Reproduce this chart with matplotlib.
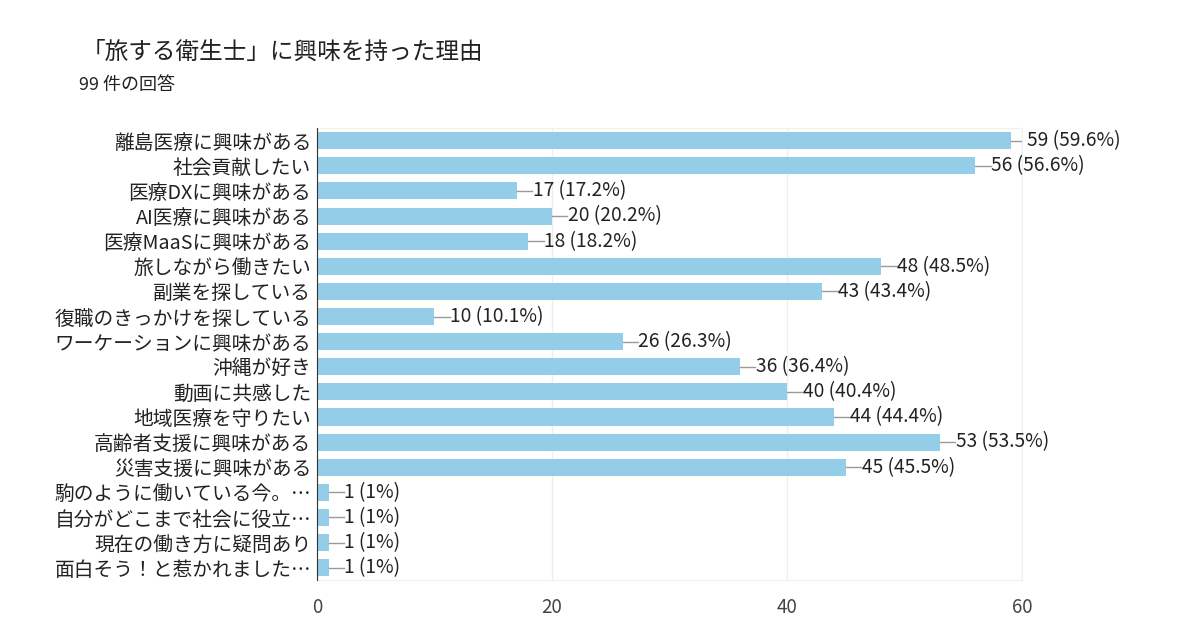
import matplotlib.pyplot as plt

plt.rcParams['font.family'] = ['Noto Sans CJK JP', 'DejaVu Sans']

labels = ['離島医療に興味がある', '社会貢献したい', '医療DXに興味がある', 'AI医療に興味がある',
          '医療MaaSに興味がある', '旅しながら働きたい', '副業を探している', '復職のきっかけを探している',
          'ワーケーションに興味がある', '沖縄が好き', '動画に共感した', '地域医療を守りたい',
          '高齢者支援に興味がある', '災害支援に興味がある', '駒のように働いている今。…',
          '自分がどこまで社会に役立…', '現在の働き方に疑問あり', '面白そう！と惹かれました…']
counts = [59, 56, 17, 20, 18, 48, 43, 10, 26, 36, 40, 44, 53, 45, 1, 1, 1, 1]
pcts = ['59.6%', '56.6%', '17.2%', '20.2%', '18.2%', '48.5%', '43.4%', '10.1%',
        '26.3%', '36.4%', '40.4%', '44.4%', '53.5%', '45.5%', '1%', '1%', '1%', '1%']
ticks = [0, 20, 40, 60]

fig = plt.figure(figsize=(12, 6.44), dpi=100)
ax = fig.add_axes([0.264, 0.099, 0.588, 0.702])

ypos = list(range(len(labels)))
ax.barh(ypos, counts, height=0.68, color='#93cde8', zorder=2)
for y, c, p in zip(ypos, counts, pcts):
    ax.plot([c, c + 1.3], [y, y], color='#999999', lw=1, zorder=2)
    ax.text(c + 1.35, y, f'{c} ({p})', va='center', ha='left', fontsize=13.8, color='#222222')

ax.set_ylim(len(labels) - 0.5, -0.5)
ax.set_xlim(0, 60)
ax.set_yticks(ypos)
ax.set_yticklabels(labels, fontsize=14.2, color='#222222')
ax.set_xticks(ticks)
ax.set_xticklabels([str(t) for t in ticks], fontsize=13.5, color='#444444')
ax.tick_params(axis='both', length=0)
ax.tick_params(axis='x', pad=12)
ax.tick_params(axis='y', pad=4)
ax.grid(axis='x', color='#eeeeee', lw=1, zorder=0)
for s in ['top', 'right', 'bottom']:
    ax.spines[s].set_color('#f0f0f0')
ax.spines['left'].set_color('#333333')
ax.spines['left'].set_zorder(3)

fig.text(0.068, 0.918, '「旅する衛生士」に興味を持った理由', fontsize=17, color='#222222', va='center')
fig.text(0.066, 0.868, '99 件の回答', fontsize=13, color='#222222', va='center')

fig.savefig('out.png', dpi=100)
